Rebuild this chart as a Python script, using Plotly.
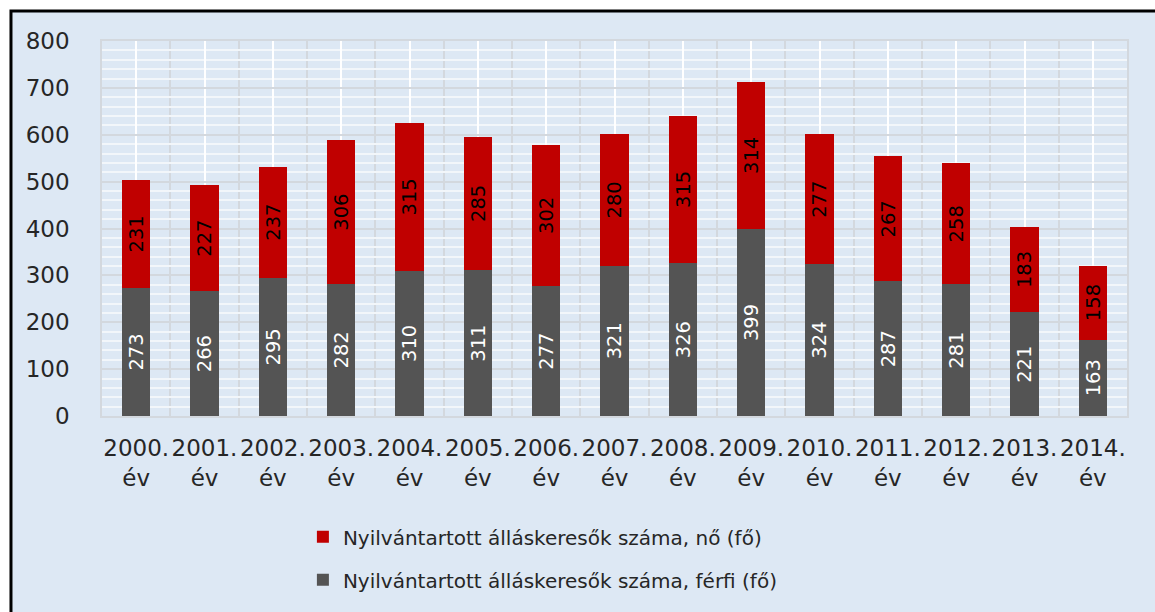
import plotly.graph_objects as go

years = ["2000.", "2001.", "2002.", "2003.", "2004.", "2005.", "2006.", "2007.",
         "2008.", "2009.", "2010.", "2011.", "2012.", "2013.", "2014."]
tick_labels = [y + "<br>év" for y in years]
male = [273, 266, 295, 282, 310, 311, 277, 321, 326, 399, 324, 287, 281, 221, 163]
female = [231, 227, 237, 306, 315, 285, 302, 280, 315, 314, 277, 267, 258, 183, 158]
name_female = "Nyilvántartott álláskeresők száma, nő (fő)"
name_male = "Nyilvántartott álláskeresők száma, férfi (fő)"

xpos = list(range(len(years)))
FONT = "DejaVu Sans"
BLUE = "#DDE8F4"

fig = go.Figure()
fig.add_trace(go.Bar(
    x=xpos, y=male, name=name_male, legendgroup="m", legendrank=2,
    marker=dict(color="#545454", line=dict(width=0)),
    text=[str(v) for v in male], textposition="inside", textangle=-90,
    insidetextanchor="middle",
    textfont=dict(family=FONT, size=23, color="white"),
    width=0.41,
))
fig.add_trace(go.Bar(
    x=xpos, y=female, name=name_female, legendgroup="f", legendrank=1,
    marker=dict(color="#C00000", line=dict(width=0)),
    text=[str(v) for v in female], textposition="inside", textangle=-90,
    insidetextanchor="middle",
    textfont=dict(family=FONT, size=23, color="black"),
    width=0.41,
))

fig.update_layout(
    barmode="stack",
    width=1155, height=612,
    margin=dict(l=102, r=28, t=41, b=196, autoexpand=False),
    paper_bgcolor="white",
    plot_bgcolor=BLUE,
    font=dict(family=FONT, size=21, color="#262626"),
    showlegend=True,
    legend=dict(
        x=0.196, y=-0.27, xanchor="left", yanchor="top",
        orientation="v", traceorder="grouped", tracegroupgap=14,
        font=dict(family=FONT, size=20, color="#262626"),
        bgcolor="rgba(0,0,0,0)", itemwidth=30,
    ),
    xaxis=dict(
        range=[-0.5, len(years) - 0.5],
        tickmode="array", tickvals=xpos, ticktext=tick_labels,
        showgrid=True, gridcolor="white", gridwidth=1.5,
        minor=dict(tickmode="linear", tick0=-0.5, dtick=1, showgrid=True,
                   gridcolor="#D3D8DE", gridwidth=1.5, ticks=""),
        showline=True, linecolor="#D3D8DE", linewidth=1.5, mirror=True,
        ticks="", ticklabelstandoff=11,
        tickfont=dict(family=FONT, size=23, color="#262626"),
        zeroline=False, fixedrange=True,
    ),
    yaxis=dict(
        range=[0, 800], tickmode="linear", tick0=0, dtick=100,
        showgrid=True, gridcolor="#D3D8DE", gridwidth=1.5,
        minor=dict(tickmode="linear", tick0=0, dtick=20, showgrid=True,
                   gridcolor="#F2F6FA", gridwidth=1.5, ticks=""),
        showline=True, linecolor="#D3D8DE", linewidth=1.5, mirror=True,
        ticks="", ticklabelstandoff=26,
        tickfont=dict(family=FONT, size=23, color="#262626"),
        zeroline=False, fixedrange=True,
    ),
    shapes=[dict(
        type="rect", xref="paper", yref="paper",
        x0=-0.0888, x1=1.1, y0=-1.0, y1=1.08,
        fillcolor=BLUE, line=dict(color="black", width=3), layer="below",
    )],
)

fig.write_html(
    "out.html",
    config={"displayModeBar": False},
    post_script="document.body.style.margin='0';document.body.style.overflow='hidden';",
)
